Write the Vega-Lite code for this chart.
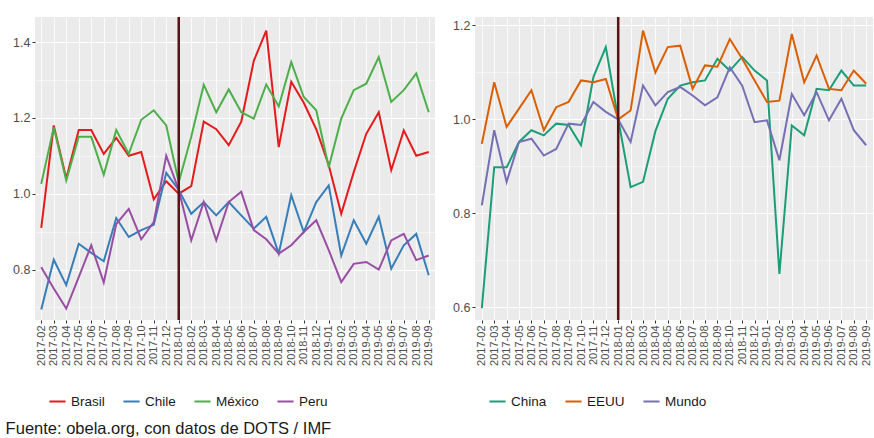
{
"$schema":"https://vega.github.io/schema/vega-lite/v6.json",
"padding":{"left":5,"top":15,"right":2,"bottom":2},
"config":{"font":"Liberation Sans","view":{"fill":"#EBEBEB","stroke":null},
"axis":{"labelColor":"#4D4D4D","tickColor":"#333333","domain":false,"gridColor":"#FFFFFF","title":null,"tickSize":3,"labelPadding":2},
"legend":{"orient":"bottom","direction":"horizontal","title":null,"symbolType":"stroke","symbolStrokeWidth":2,"symbolSize":260,"labelFontSize":13.5,"labelColor":"#1a1a1a","columnPadding":14,"offset":13,"padding":13}},
"title":{"text":"Fuente: obela.org, con datos de DOTS / IMF","orient":"bottom","anchor":"start","fontSize":16.5,"fontWeight":"normal","color":"#1a1a1a","offset":0,"dx":-7},
"datasets":{
"latam":[
{"mes":"2017-02","pais":"Brasil","valor":0.91},{"mes":"2017-03","pais":"Brasil","valor":1.18},{"mes":"2017-04","pais":"Brasil","valor":1.04},{"mes":"2017-05","pais":"Brasil","valor":1.168},{"mes":"2017-06","pais":"Brasil","valor":1.168},{"mes":"2017-07","pais":"Brasil","valor":1.105},{"mes":"2017-08","pais":"Brasil","valor":1.147},{"mes":"2017-09","pais":"Brasil","valor":1.1},{"mes":"2017-10","pais":"Brasil","valor":1.11},{"mes":"2017-11","pais":"Brasil","valor":0.985},{"mes":"2017-12","pais":"Brasil","valor":1.033},{"mes":"2018-01","pais":"Brasil","valor":1.0},{"mes":"2018-02","pais":"Brasil","valor":1.02},{"mes":"2018-03","pais":"Brasil","valor":1.19},{"mes":"2018-04","pais":"Brasil","valor":1.17},{"mes":"2018-05","pais":"Brasil","valor":1.128},{"mes":"2018-06","pais":"Brasil","valor":1.19},{"mes":"2018-07","pais":"Brasil","valor":1.35},{"mes":"2018-08","pais":"Brasil","valor":1.43},{"mes":"2018-09","pais":"Brasil","valor":1.123},{"mes":"2018-10","pais":"Brasil","valor":1.295},{"mes":"2018-11","pais":"Brasil","valor":1.24},{"mes":"2018-12","pais":"Brasil","valor":1.17},{"mes":"2019-01","pais":"Brasil","valor":1.075},{"mes":"2019-02","pais":"Brasil","valor":0.947},{"mes":"2019-03","pais":"Brasil","valor":1.057},{"mes":"2019-04","pais":"Brasil","valor":1.158},{"mes":"2019-05","pais":"Brasil","valor":1.215},{"mes":"2019-06","pais":"Brasil","valor":1.062},{"mes":"2019-07","pais":"Brasil","valor":1.167},{"mes":"2019-08","pais":"Brasil","valor":1.1},{"mes":"2019-09","pais":"Brasil","valor":1.11},
{"mes":"2017-02","pais":"Chile","valor":0.695},{"mes":"2017-03","pais":"Chile","valor":0.826},{"mes":"2017-04","pais":"Chile","valor":0.759},{"mes":"2017-05","pais":"Chile","valor":0.868},{"mes":"2017-06","pais":"Chile","valor":0.844},{"mes":"2017-07","pais":"Chile","valor":0.822},{"mes":"2017-08","pais":"Chile","valor":0.936},{"mes":"2017-09","pais":"Chile","valor":0.886},{"mes":"2017-10","pais":"Chile","valor":0.904},{"mes":"2017-11","pais":"Chile","valor":0.918},{"mes":"2017-12","pais":"Chile","valor":1.055},{"mes":"2018-01","pais":"Chile","valor":1.01},{"mes":"2018-02","pais":"Chile","valor":0.947},{"mes":"2018-03","pais":"Chile","valor":0.978},{"mes":"2018-04","pais":"Chile","valor":0.943},{"mes":"2018-05","pais":"Chile","valor":0.978},{"mes":"2018-06","pais":"Chile","valor":0.943},{"mes":"2018-07","pais":"Chile","valor":0.908},{"mes":"2018-08","pais":"Chile","valor":0.939},{"mes":"2018-09","pais":"Chile","valor":0.842},{"mes":"2018-10","pais":"Chile","valor":0.996},{"mes":"2018-11","pais":"Chile","valor":0.899},{"mes":"2018-12","pais":"Chile","valor":0.978},{"mes":"2019-01","pais":"Chile","valor":1.022},{"mes":"2019-02","pais":"Chile","valor":0.837},{"mes":"2019-03","pais":"Chile","valor":0.93},{"mes":"2019-04","pais":"Chile","valor":0.868},{"mes":"2019-05","pais":"Chile","valor":0.939},{"mes":"2019-06","pais":"Chile","valor":0.802},{"mes":"2019-07","pais":"Chile","valor":0.864},{"mes":"2019-08","pais":"Chile","valor":0.894},{"mes":"2019-09","pais":"Chile","valor":0.785},
{"mes":"2017-02","pais":"México","valor":1.026},{"mes":"2017-03","pais":"México","valor":1.175},{"mes":"2017-04","pais":"México","valor":1.035},{"mes":"2017-05","pais":"México","valor":1.15},{"mes":"2017-06","pais":"México","valor":1.15},{"mes":"2017-07","pais":"México","valor":1.05},{"mes":"2017-08","pais":"México","valor":1.168},{"mes":"2017-09","pais":"México","valor":1.105},{"mes":"2017-10","pais":"México","valor":1.195},{"mes":"2017-11","pais":"México","valor":1.22},{"mes":"2017-12","pais":"México","valor":1.18},{"mes":"2018-01","pais":"México","valor":1.03},{"mes":"2018-02","pais":"México","valor":1.15},{"mes":"2018-03","pais":"México","valor":1.287},{"mes":"2018-04","pais":"México","valor":1.215},{"mes":"2018-05","pais":"México","valor":1.275},{"mes":"2018-06","pais":"México","valor":1.215},{"mes":"2018-07","pais":"México","valor":1.198},{"mes":"2018-08","pais":"México","valor":1.288},{"mes":"2018-09","pais":"México","valor":1.23},{"mes":"2018-10","pais":"México","valor":1.347},{"mes":"2018-11","pais":"México","valor":1.255},{"mes":"2018-12","pais":"México","valor":1.22},{"mes":"2019-01","pais":"México","valor":1.07},{"mes":"2019-02","pais":"México","valor":1.198},{"mes":"2019-03","pais":"México","valor":1.273},{"mes":"2019-04","pais":"México","valor":1.29},{"mes":"2019-05","pais":"México","valor":1.36},{"mes":"2019-06","pais":"México","valor":1.242},{"mes":"2019-07","pais":"México","valor":1.273},{"mes":"2019-08","pais":"México","valor":1.317},{"mes":"2019-09","pais":"México","valor":1.215},
{"mes":"2017-02","pais":"Peru","valor":0.806},{"mes":"2017-03","pais":"Peru","valor":0.75},{"mes":"2017-04","pais":"Peru","valor":0.697},{"mes":"2017-05","pais":"Peru","valor":0.78},{"mes":"2017-06","pais":"Peru","valor":0.864},{"mes":"2017-07","pais":"Peru","valor":0.766},{"mes":"2017-08","pais":"Peru","valor":0.92},{"mes":"2017-09","pais":"Peru","valor":0.96},{"mes":"2017-10","pais":"Peru","valor":0.88},{"mes":"2017-11","pais":"Peru","valor":0.925},{"mes":"2017-12","pais":"Peru","valor":1.1},{"mes":"2018-01","pais":"Peru","valor":1.01},{"mes":"2018-02","pais":"Peru","valor":0.877},{"mes":"2018-03","pais":"Peru","valor":0.978},{"mes":"2018-04","pais":"Peru","valor":0.877},{"mes":"2018-05","pais":"Peru","valor":0.978},{"mes":"2018-06","pais":"Peru","valor":1.005},{"mes":"2018-07","pais":"Peru","valor":0.904},{"mes":"2018-08","pais":"Peru","valor":0.88},{"mes":"2018-09","pais":"Peru","valor":0.842},{"mes":"2018-10","pais":"Peru","valor":0.864},{"mes":"2018-11","pais":"Peru","valor":0.899},{"mes":"2018-12","pais":"Peru","valor":0.93},{"mes":"2019-01","pais":"Peru","valor":0.851},{"mes":"2019-02","pais":"Peru","valor":0.767},{"mes":"2019-03","pais":"Peru","valor":0.815},{"mes":"2019-04","pais":"Peru","valor":0.82},{"mes":"2019-05","pais":"Peru","valor":0.8},{"mes":"2019-06","pais":"Peru","valor":0.877},{"mes":"2019-07","pais":"Peru","valor":0.894},{"mes":"2019-08","pais":"Peru","valor":0.825},{"mes":"2019-09","pais":"Peru","valor":0.837}
],
"mundo":[
{"mes":"2017-02","pais":"China","valor":0.598},{"mes":"2017-03","pais":"China","valor":0.898},{"mes":"2017-04","pais":"China","valor":0.898},{"mes":"2017-05","pais":"China","valor":0.952},{"mes":"2017-06","pais":"China","valor":0.977},{"mes":"2017-07","pais":"China","valor":0.966},{"mes":"2017-08","pais":"China","valor":0.991},{"mes":"2017-09","pais":"China","valor":0.988},{"mes":"2017-10","pais":"China","valor":0.945},{"mes":"2017-11","pais":"China","valor":1.09},{"mes":"2017-12","pais":"China","valor":1.154},{"mes":"2018-01","pais":"China","valor":1.0},{"mes":"2018-02","pais":"China","valor":0.856},{"mes":"2018-03","pais":"China","valor":0.867},{"mes":"2018-04","pais":"China","valor":0.975},{"mes":"2018-05","pais":"China","valor":1.044},{"mes":"2018-06","pais":"China","valor":1.072},{"mes":"2018-07","pais":"China","valor":1.079},{"mes":"2018-08","pais":"China","valor":1.083},{"mes":"2018-09","pais":"China","valor":1.129},{"mes":"2018-10","pais":"China","valor":1.104},{"mes":"2018-11","pais":"China","valor":1.133},{"mes":"2018-12","pais":"China","valor":1.104},{"mes":"2019-01","pais":"China","valor":1.083},{"mes":"2019-02","pais":"China","valor":0.671},{"mes":"2019-03","pais":"China","valor":0.987},{"mes":"2019-04","pais":"China","valor":0.966},{"mes":"2019-05","pais":"China","valor":1.065},{"mes":"2019-06","pais":"China","valor":1.062},{"mes":"2019-07","pais":"China","valor":1.104},{"mes":"2019-08","pais":"China","valor":1.072},{"mes":"2019-09","pais":"China","valor":1.072},
{"mes":"2017-02","pais":"EEUU","valor":0.948},{"mes":"2017-03","pais":"EEUU","valor":1.079},{"mes":"2017-04","pais":"EEUU","valor":0.984},{"mes":"2017-05","pais":"EEUU","valor":1.023},{"mes":"2017-06","pais":"EEUU","valor":1.062},{"mes":"2017-07","pais":"EEUU","valor":0.977},{"mes":"2017-08","pais":"EEUU","valor":1.026},{"mes":"2017-09","pais":"EEUU","valor":1.037},{"mes":"2017-10","pais":"EEUU","valor":1.083},{"mes":"2017-11","pais":"EEUU","valor":1.079},{"mes":"2017-12","pais":"EEUU","valor":1.086},{"mes":"2018-01","pais":"EEUU","valor":1.0},{"mes":"2018-02","pais":"EEUU","valor":1.019},{"mes":"2018-03","pais":"EEUU","valor":1.189},{"mes":"2018-04","pais":"EEUU","valor":1.1},{"mes":"2018-05","pais":"EEUU","valor":1.154},{"mes":"2018-06","pais":"EEUU","valor":1.157},{"mes":"2018-07","pais":"EEUU","valor":1.065},{"mes":"2018-08","pais":"EEUU","valor":1.115},{"mes":"2018-09","pais":"EEUU","valor":1.112},{"mes":"2018-10","pais":"EEUU","valor":1.171},{"mes":"2018-11","pais":"EEUU","valor":1.129},{"mes":"2018-12","pais":"EEUU","valor":1.083},{"mes":"2019-01","pais":"EEUU","valor":1.037},{"mes":"2019-02","pais":"EEUU","valor":1.04},{"mes":"2019-03","pais":"EEUU","valor":1.182},{"mes":"2019-04","pais":"EEUU","valor":1.079},{"mes":"2019-05","pais":"EEUU","valor":1.136},{"mes":"2019-06","pais":"EEUU","valor":1.065},{"mes":"2019-07","pais":"EEUU","valor":1.062},{"mes":"2019-08","pais":"EEUU","valor":1.104},{"mes":"2019-09","pais":"EEUU","valor":1.076},
{"mes":"2017-02","pais":"Mundo","valor":0.817},{"mes":"2017-03","pais":"Mundo","valor":0.977},{"mes":"2017-04","pais":"Mundo","valor":0.867},{"mes":"2017-05","pais":"Mundo","valor":0.952},{"mes":"2017-06","pais":"Mundo","valor":0.959},{"mes":"2017-07","pais":"Mundo","valor":0.923},{"mes":"2017-08","pais":"Mundo","valor":0.937},{"mes":"2017-09","pais":"Mundo","valor":0.991},{"mes":"2017-10","pais":"Mundo","valor":0.988},{"mes":"2017-11","pais":"Mundo","valor":1.037},{"mes":"2017-12","pais":"Mundo","valor":1.016},{"mes":"2018-01","pais":"Mundo","valor":1.0},{"mes":"2018-02","pais":"Mundo","valor":0.952},{"mes":"2018-03","pais":"Mundo","valor":1.072},{"mes":"2018-04","pais":"Mundo","valor":1.03},{"mes":"2018-05","pais":"Mundo","valor":1.058},{"mes":"2018-06","pais":"Mundo","valor":1.069},{"mes":"2018-07","pais":"Mundo","valor":1.051},{"mes":"2018-08","pais":"Mundo","valor":1.03},{"mes":"2018-09","pais":"Mundo","valor":1.047},{"mes":"2018-10","pais":"Mundo","valor":1.111},{"mes":"2018-11","pais":"Mundo","valor":1.072},{"mes":"2018-12","pais":"Mundo","valor":0.994},{"mes":"2019-01","pais":"Mundo","valor":0.998},{"mes":"2019-02","pais":"Mundo","valor":0.913},{"mes":"2019-03","pais":"Mundo","valor":1.054},{"mes":"2019-04","pais":"Mundo","valor":1.009},{"mes":"2019-05","pais":"Mundo","valor":1.058},{"mes":"2019-06","pais":"Mundo","valor":0.998},{"mes":"2019-07","pais":"Mundo","valor":1.044},{"mes":"2019-08","pais":"Mundo","valor":0.977},{"mes":"2019-09","pais":"Mundo","valor":0.945}
],
"corte":[{"mes":"2018-01"}]
},
"hconcat":[
{"width":400,"height":303,
"layer":[
{"data":{"name":"latam"},"mark":{"type":"line","opacity":0},
"encoding":{"x":{"field":"mes","type":"ordinal","scale":{"type":"point","padding":0.5},"axis":{"labelAngle":270,"labelFontSize":11,"grid":true,"gridWidth":0.8}},
"y":{"field":"valor","type":"quantitative","scale":{"domain":[0.667,1.466],"nice":false,"zero":false},"axis":{"orient":"right","values":[0.7,0.9,1.1,1.3],"labels":false,"ticks":false,"grid":true,"gridWidth":0.5}},
"detail":{"field":"pais"}}},
{"data":{"name":"latam"},"mark":{"type":"line","strokeWidth":2},
"encoding":{"x":{"field":"mes","type":"ordinal"},
"y":{"field":"valor","type":"quantitative","axis":{"orient":"left","values":[0.8,1.0,1.2,1.4],"format":".1f","labelFontSize":12.5,"grid":true,"gridWidth":1}},
"color":{"field":"pais","type":"nominal","scale":{"domain":["Brasil","Chile","México","Peru"],"range":["#E41A1C","#377EB8","#4DAF4A","#984EA3"]}}}},
{"data":{"name":"corte"},"mark":{"type":"rule","color":"#5A1212","strokeWidth":2.5},
"encoding":{"x":{"field":"mes","type":"ordinal"}}}
],
"resolve":{"axis":{"y":"independent"}}},
{"width":398,"height":303,
"layer":[
{"data":{"name":"mundo"},"mark":{"type":"line","opacity":0},
"encoding":{"x":{"field":"mes","type":"ordinal","scale":{"type":"point","padding":0.55},"axis":{"labelAngle":270,"labelFontSize":11,"grid":true,"gridWidth":0.8}},
"y":{"field":"valor","type":"quantitative","scale":{"domain":[0.573,1.218],"nice":false,"zero":false},"axis":{"orient":"right","values":[0.7,0.9,1.1],"labels":false,"ticks":false,"grid":true,"gridWidth":0.5}},
"detail":{"field":"pais"}}},
{"data":{"name":"mundo"},"mark":{"type":"line","strokeWidth":2},
"encoding":{"x":{"field":"mes","type":"ordinal"},
"y":{"field":"valor","type":"quantitative","axis":{"orient":"left","values":[0.6,0.8,1.0,1.2],"format":".1f","labelFontSize":12.5,"grid":true,"gridWidth":1}},
"color":{"field":"pais","type":"nominal","scale":{"domain":["China","EEUU","Mundo"],"range":["#1B9E77","#D95F02","#7570B3"]}}}},
{"data":{"name":"corte"},"mark":{"type":"rule","color":"#5A1212","strokeWidth":2.5},
"encoding":{"x":{"field":"mes","type":"ordinal"}}}
],
"resolve":{"axis":{"y":"independent"}}}
],
"spacing":17,
"resolve":{"scale":{"color":"independent","x":"independent","y":"independent"},"legend":{"color":"independent"}}
}
